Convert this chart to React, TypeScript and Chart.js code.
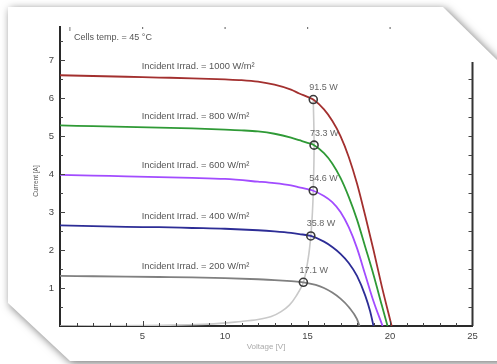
import React, { useEffect, useRef } from "react";
import { Chart, registerables } from "chart.js";

Chart.register(...registerables);

// ---- data ----
const irradiances = [1000, 800, 600, 400, 200];

const V1000 = [0, 2, 4, 6, 8, 10, 11, 12, 13, 14, 14.5, 15, 15.35, 16, 16.5, 17, 17.5, 18, 18.5, 19, 19.5, 20.1];
const I1000 = [6.6, 6.58, 6.56, 6.54, 6.52, 6.49, 6.47, 6.43, 6.35, 6.22, 6.12, 6.03, 5.96, 5.7, 5.4, 5.0, 4.45, 3.75, 2.9, 2.0, 1.05, 0];

const V800 = [0, 2, 4, 6, 8, 10, 11, 12, 13, 14, 14.5, 15, 15.4, 16, 16.5, 17, 17.5, 18, 18.5, 19, 19.5, 19.85];
const I800 = [5.28, 5.26, 5.24, 5.22, 5.2, 5.17, 5.15, 5.12, 5.06, 4.96, 4.89, 4.82, 4.76, 4.55, 4.28, 3.9, 3.4, 2.8, 2.08, 1.35, 0.55, 0];

const V600 = [0, 2, 4, 6, 8, 10, 12, 13, 14, 14.5, 15, 15.35, 16, 16.5, 17, 17.5, 18, 18.5, 19, 19.55];
const I600 = [3.98, 3.96, 3.94, 3.92, 3.9, 3.87, 3.8, 3.76, 3.7, 3.65, 3.6, 3.56, 3.42, 3.26, 3.0, 2.6, 2.05, 1.35, 0.65, 0];

const V400 = [0, 2, 4, 6, 8, 10, 12, 13, 14, 14.5, 15.2, 16, 16.5, 17, 17.5, 18, 18.5, 18.8, 19.0];
const I400 = [2.65, 2.63, 2.61, 2.6, 2.58, 2.56, 2.52, 2.49, 2.45, 2.42, 2.37, 2.22, 2.08, 1.9, 1.66, 1.32, 0.8, 0.38, 0];

const V200 = [0, 2, 4, 6, 8, 10, 12, 13, 14, 14.75, 15.5, 16, 16.5, 17, 17.5, 18, 18.15];
const I200 = [1.32, 1.31, 1.3, 1.29, 1.28, 1.26, 1.23, 1.21, 1.18, 1.15, 1.08, 1.0, 0.88, 0.72, 0.5, 0.18, 0];

// maximum power point locus
const Vmpp = [0, 5, 9, 11, 12, 12.8, 13.4, 13.9, 14.3, 14.75, 15.05, 15.2, 15.3, 15.35, 15.4, 15.35];
const Impp = [0.0, 0.01, 0.05, 0.12, 0.17, 0.25, 0.38, 0.55, 0.78, 1.15, 1.8, 2.37, 3.0, 3.56, 4.76, 5.96];

// marked maximum power points
const mppV = [15.35, 15.4, 15.35, 15.2, 14.75];
const mppI = [5.96, 4.76, 3.56, 2.37, 1.15];
const mppLabels = ["91.5 W", "73.3 W", "54.6 W", "35.8 W", "17.1 W"];

const xTicks = [5, 10, 15, 20, 25];
const yTicks = [1, 2, 3, 4, 5, 6, 7];

const curveV = [V1000, V800, V600, V400, V200];
const curveI = [I1000, I800, I600, I400, I200];
const curveColors = ["#a3302f", "#2f9a36", "#a24cff", "#2d2d96", "#808080"];

const FONT = "'Liberation Sans', Arial, sans-serif";

const pts = (xs: number[], ys: number[]) => xs.map((x, i) => ({ x, y: ys[i] }));

const decor = {
  id: "decor",
  afterDatasetsDraw(chart: any) {
    const { ctx, chartArea: ca, scales } = chart;
    const xs = scales.x;
    const ys = scales.y;
    ctx.save();
    // right axis line
    const rTop = ys.getPixelForValue(6.95);
    ctx.strokeStyle = "#333";
    ctx.lineWidth = 2;
    ctx.beginPath();
    ctx.moveTo(ca.right, rTop);
    ctx.lineTo(ca.right, ca.bottom);
    ctx.stroke();

    // inward ticks
    ctx.lineWidth = 1;
    ctx.strokeStyle = "#444";
    ctx.beginPath();
    for (let v = 0.5; v <= 7.5; v += 0.5) {
      const y = Math.round(ys.getPixelForValue(v)) + 0.5;
      const major = Math.abs(v - Math.round(v)) < 1e-6;
      const len = major ? 5 : 3;
      ctx.moveTo(ca.left, y);
      ctx.lineTo(ca.left + len, y);
      if (v <= 6.9) {
        ctx.moveTo(ca.right, y);
        ctx.lineTo(ca.right - 4, y);
      }
    }
    for (let v = 1; v < 25; v += 1) {
      const x = Math.round(xs.getPixelForValue(v)) + 0.5;
      const major = v % 5 === 0;
      const len = major ? 5 : 3;
      ctx.moveTo(x, ca.bottom);
      ctx.lineTo(x, ca.bottom - len);
    }
    ctx.stroke();
    // top dots
    ctx.fillStyle = "#777";
    for (const v of [5, 10, 15, 20]) {
      const x = xs.getPixelForValue(v);
      ctx.fillRect(x - 0.5, ca.top, 1.2, 2);
    }
    ctx.fillRect(xs.getPixelForValue(0.6) - 0.5, ca.top, 1, 4);

    // texts
    ctx.fillStyle = "#555";
    ctx.textBaseline = "middle";
    ctx.textAlign = "left";
    ctx.font = `9px ${FONT}`;
    ctx.fillText("Cells temp. = 45 °C", ca.left + 14, ca.top + 11);

    ctx.font = `9.3px ${FONT}`;
    irradiances.forEach((g, k) => {
      const y = ys.getPixelForValue(curveI[k][0]) - 9;
      ctx.fillText(`Incident Irrad. = ${g} W/m²`, xs.getPixelForValue(4.95), y);
    });

    ctx.font = `9px ${FONT}`;
    ctx.fillStyle = "#666";
    mppLabels.forEach((t, k) => {
      const x = xs.getPixelForValue(mppV[k]) - 4;
      const y = ys.getPixelForValue(mppI[k]) - 12;
      ctx.fillText(t, x, y);
    });

    // axis titles
    ctx.fillStyle = "#555";
    ctx.font = `6.5px ${FONT}`;
    ctx.save();
    ctx.translate(36.5, 181);
    ctx.rotate(-Math.PI / 2);
    ctx.textAlign = "center";
    ctx.fillText("Current [A]", 0, 0);
    ctx.restore();
    ctx.fillStyle = "#aaa";
    ctx.font = `8px ${FONT}`;
    ctx.textAlign = "center";
    ctx.fillText("Voltage [V]", 266, 347);
    ctx.restore();
  },
};

export default function App() {
  const ref = useRef<HTMLCanvasElement | null>(null);

  useEffect(() => {
    if (!ref.current) return;
    const datasets: any[] = [];
    datasets.push({
      type: "scatter",
      data: pts(mppV, mppI),
      showLine: false,
      pointStyle: "circle",
      pointRadius: 4,
      pointBorderWidth: 1.6,
      pointBorderColor: "#3a3a3a",
      pointBackgroundColor: "rgba(255,255,255,0)",
    });
    curveV.forEach((vs, k) => {
      datasets.push({
        type: "line",
        data: pts(vs, curveI[k]),
        borderColor: curveColors[k],
        borderWidth: 1.8,
        pointRadius: 0,
        cubicInterpolationMode: "monotone",
        fill: false,
      });
    });
    datasets.push({
      type: "line",
      data: pts(Vmpp, Impp),
      borderColor: "#c9c9c9",
      borderWidth: 1.6,
      pointRadius: 0,
      tension: 0.35,
      fill: false,
    });

    const chart = new Chart(ref.current, {
      type: "line",
      data: { datasets },
      options: {
        responsive: false,
        animation: false,
        devicePixelRatio: 1,
        layout: { padding: { left: 0, top: 27, right: 24.5, bottom: 0 } },
        plugins: { legend: { display: false }, tooltip: { enabled: false } },
        scales: {
          x: {
            type: "linear",
            min: 0,
            max: 25,
            afterBuildTicks: (s: any) => {
              s.ticks = xTicks.map((v) => ({ value: v }));
            },
            afterFit: (s: any) => {
              s.height = 38;
            },
            grid: { display: false, drawTicks: false },
            border: { display: true, color: "#2a2a2a", width: 2 },
            ticks: { color: "#444", font: { family: FONT, size: 9.5 }, padding: 5, maxRotation: 0 },
          },
          y: {
            type: "linear",
            min: 0,
            max: 7.87,
            afterBuildTicks: (s: any) => {
              s.ticks = yTicks.map((v) => ({ value: v }));
            },
            afterFit: (s: any) => {
              s.width = 60;
            },
            grid: { display: false, drawTicks: false },
            border: { display: true, color: "#2a2a2a", width: 2 },
            ticks: { color: "#444", font: { family: FONT, size: 9.5 }, padding: 6 },
          },
        },
      },
      plugins: [decor],
    });
    return () => chart.destroy();
  }, []);

  return (
    <div style={{ position: "fixed", left: 0, top: 0, width: 497, height: 364, overflow: "hidden", background: "#fff" }}>
      <div style={{ position: "absolute", left: 0, top: 0, width: 540, height: 364, filter: "drop-shadow(2px 2px 4px rgba(0,0,0,0.55))" }}>
        <div
          style={{
            position: "absolute",
            left: 0,
            top: 0,
            width: 540,
            height: 364,
            background: "#fff",
            clipPath: "polygon(8px 7px, 443px 7px, 540px 102px, 540px 361px, 70px 361px, 8px 303px)",
          }}
        />
      </div>
      <canvas ref={ref} width={497} height={364} style={{ position: "absolute", left: 0, top: 0 }} />
    </div>
  );
}
